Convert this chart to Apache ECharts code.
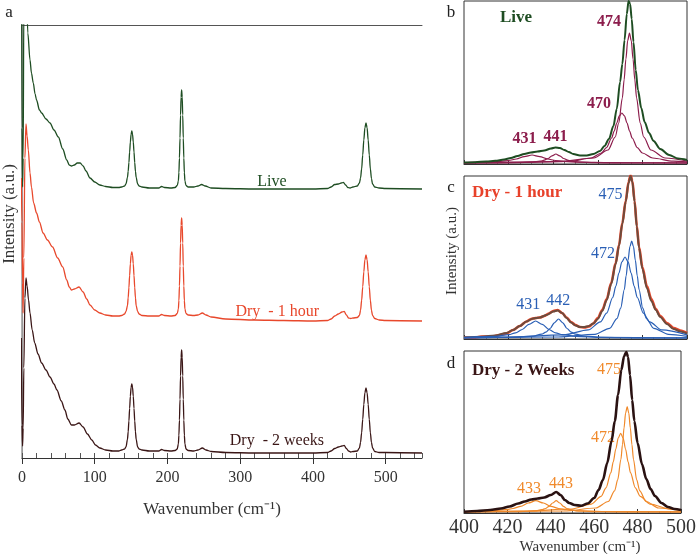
<!DOCTYPE html>
<html><head><meta charset="utf-8">
<script src="https://cdn.jsdelivr.net/npm/echarts@6/dist/echarts.min.js"></script>
<style>html,body{margin:0;padding:0;background:#fff}#c{width:699px;height:554px}</style>
</head><body><div id="c"></div>
<script>
// ---------- Panel a : full spectra (offset stack, arbitrary units) ----------
const liveA = [[-1,600],[0,330],[0.8,271],[1.6,300],[2.5,450],[4,620],[6,470],[8,425],[11,398],[13,385],[15.5,375],[18,364],[20,358],[24,348],[27,345],[33,339],[38.5,335],[44,328],[50,321],[56,309],[61.5,298],[65,293],[68,292],[72,293],[76,295],[80,295],[84,292],[88,287],[93.5,280],[100,276],[107,273],[115,271.5],[125,270.5],[133,270.5],[137,271],[141,272],[143,274],[145,280.5],[146,286.5],[147,295.4],[148,306],[149,316],[150,323.7],[151,327],[152,323.7],[153,316],[154,306],[155,295.4],[156,286.5],[157,280.5],[159,274],[161,272],[165,271],[175,270],[188,270],[192,271.5],[196,270.5],[205,270],[210.5,270.5],[213.5,272.5],[215,277],[215.75,285.4],[216.5,300],[217.25,320],[218,343],[218.75,361],[219.5,368],[220.25,361],[221,343],[221.75,320],[222.5,300],[223.25,285.4],[224,277],[225.5,272.5],[228.5,271],[236,271],[242,272],[247,273.5],[252,272],[260,270],[280,269.5],[320,269],[360,269],[400,269],[420,269.5],[425,271],[430,273.5],[435,274],[439,275],[442,275.5],[445,273],[448,270.5],[451,270],[455,271],[461,272],[464,275],[465.5,280],[467,289],[468.5,303],[470,318],[471.5,330.3],[473,335],[474.5,330.3],[476,318],[477.5,303],[479,289],[480.5,279.4],[482,274],[485,271],[491,270],[500,269.5],[550,269]];
const dry1hA = [[-1,280],[0,236],[0.8,175],[1.5,145],[2.5,200],[4,300],[5.5,334],[7,322],[8.7,308],[11,285],[13,271],[16,255],[20,245],[24,236],[29,225],[35,218],[42,211],[49,200],[56,191],[61.5,178],[65,171],[68,168],[72,169],[78.5,171],[84,166],[89,159],[93.5,153],[100,148],[107,145],[115,143],[125,142],[133,142],[137,142.5],[141,144],[143,146.5],[145,152.3],[146,160],[147,170.4],[148,182.6],[149,194.2],[150,202.8],[151,206],[152,202.8],[153,194.2],[154,182.6],[155,170.4],[156,160],[157,152.3],[159,146.5],[161,144],[165,142.5],[175,142],[188,142],[192,143.5],[196,142.5],[205,142],[210.5,142.5],[213.5,144.5],[215,149],[215.75,157.4],[216.5,172],[217.25,192],[218,215],[218.75,233],[219.5,240],[220.25,233],[221,215],[221.75,192],[222.5,172],[223.25,157.4],[224,149],[225.5,144.5],[228.5,143],[236,142.5],[242,143],[248,145],[253,143],[260,141],[280,139],[320,138],[360,137.5],[400,137],[420,137.5],[425,139],[430,142],[435,144],[440,146],[443,146.5],[446,143],[449,140],[452,139.5],[455,140],[461,140.5],[464,142.5],[465.5,147.8],[467,157.5],[468.5,171.2],[470,186.2],[471.5,198.3],[473,203],[474.5,198.3],[476,186.2],[477.5,171.2],[479,157.5],[480.5,147.8],[482,142.5],[485,139.5],[491,138],[500,137.5],[550,137]];
const dry2wA = [[-1,120],[0,33],[0.8,12],[1.6,30],[2.5,90],[4,160],[5.5,180],[7,172],[9,158],[11,145],[14,128],[17.5,115],[22,104],[27,95],[33,88],[38.5,81],[44,74],[48,68],[54,57],[59,48],[63,39],[68,33],[72,33],[78.5,35],[84,31],[90,24],[96,18],[101,13],[107,10],[115,8],[125,7],[133,7],[137,8],[141,9],[143,11],[145,18.5],[146,26.2],[147,37],[148,49.7],[149,61.8],[150,70.7],[151,74],[152,70.7],[153,61.8],[154,49.7],[155,37],[156,26.2],[157,18.5],[159,11],[161,9],[165,8],[175,7],[188,7],[192,8.5],[196,7.5],[205,7],[210.5,7.5],[213.5,9],[215,14.1],[215.75,22.9],[216.5,37.9],[217.25,58.9],[218,82.1],[218.75,100.8],[219.5,108],[220.25,100.8],[221,82.1],[221.75,58.9],[222.5,37.9],[223.25,22.9],[224,14.1],[225.5,9],[228.5,7.5],[236,7],[242,8],[248,10],[253,8],[260,6.5],[280,5.5],[320,5],[360,5],[400,5],[420,5.5],[425,7],[430,9.5],[435,11],[440,12],[443,12.5],[446,9.5],[449,7],[452,6],[455,6.5],[461,7],[464,10],[465.5,15.6],[467,25.2],[468.5,38.7],[470,53.5],[471.5,65.4],[473,70],[474.5,65.4],[476,53.5],[477.5,38.7],[479,25.2],[480.5,15.6],[482,10],[485,6.5],[491,5.5],[500,5.5],[550,5]];
const labelsA = ['Live', 'Dry  - 1 hour', 'Dry  - 2 weeks'];

// ---------- Panel b : Live, 400-500 cm-1 ----------
const liveB = [[400,1.5],[405,1.8],[410,2.5],[414,3.2],[418,4.5],[421,6],[424,8],[427,10],[430,11.5],[433,12.5],[436,13.5],[439,15.5],[441,16.5],[443,16],[445,14],[447,12],[449,10],[452,8.5],[455,8.5],[458,10],[461,13],[463,18],[465,25],[467,38],[468.5,55],[470,82],[471,100],[472,124],[473,150],[473.8,163],[474.5,160],[475.2,145],[476,122],[477,94],[478,74],[479.5,56],[481,42],[483,31],[485,23],[488,15],[492,9],[496,5.5],[500,4]];
const liveB431 = [[400,1.4],[409.5,1.8],[416.5,2.6],[420,3.5],[423.5,5],[427,7.4],[430.5,9],[434,7.4],[437.5,5],[441,3.5],[444.5,2.6],[451.5,1.8],[465.5,1.3],[500,1.1]];
const liveB441 = [[400,1.1],[406.2,1.1],[423.7,1.3],[430.7,1.9],[434.2,2.8],[436,3.8],[437.7,5.5],[439.45,8.2],[441.2,10],[442.95,8.2],[444.7,5.5],[446.45,3.8],[448.2,2.8],[451.7,1.9],[458.7,1.3],[476.2,1.1],[500,1.0]];
const liveB470 = [[400,1.2],[424.8,1.5],[447.8,2.9],[457,6],[461.6,11],[463.9,16.4],[466.2,26],[467.35,33],[468.5,41],[469.65,48.1],[470.8,51],[471.95,48.1],[473.1,41],[474.25,33],[475.4,26],[477.7,16.4],[480,11],[484.6,6],[493.8,2.9],[500,2.2]];
const liveB474 = [[400,1.2],[442.2,2.3],[458.2,6],[464.6,14],[467.8,27],[469.4,41],[471,66],[471.8,84.2],[472.6,105],[473.4,123.3],[474.2,131],[475,123.3],[475.8,105],[476.6,84.2],[477.4,66],[479,41],[480.6,27],[483.8,14],[490.2,6],[500,3]];
const peaksB = ['431', '441', '470', '474'];

// ---------- Panel c : Dry - 1 hour ----------
const dry1hC = [[400,1.5],[404,1.2],[408,2.5],[412,2.2],[416,4],[419,5.5],[422,9],[425,13],[428,17.5],[430,20],[432,21],[434,21.5],[436,23],[438,25.5],[440,28],[442,29],[444,26],[446,21.5],[448,17],[450,14],[452,12],[454,11.5],[456,12.5],[458,15.5],[460,21],[462,29],[464,40],[466,56],[468,76],[469.5,94],[471,116],[472.5,138],[473.8,157],[474.7,164],[475.5,158],[476.5,138],[477.5,113],[478.5,92],[480,72],[482,53],[484,40],[486,30],[488,23],[491,16],[494,11],[497,8.5],[500,6]];
const dry1hCFit = [[400,1.5],[408,2.3],[414,3.5],[419,6],[422,9],[425,13],[428,17.5],[431,20.5],[434,21.5],[437,24],[440,27.5],[442,28.5],[444,26],[446,21],[448,16.5],[450,13.5],[452,12],[454,12],[456,13],[458,15.5],[460,20],[462,28],[464,39],[466,55],[468,75],[469.5,93],[471,115],[472.5,137],[473.8,156],[474.7,163],[475.5,157],[476.5,137],[477.5,112],[478.5,91],[480,70],[482,51],[484,38],[486,29],[488,22],[491,15],[494,10],[497,7.5],[500,5.5]];
const dry1hC431 = [[400,1.6],[414.1,2.7],[420.1,4.4],[423.1,6.2],[426.1,9.5],[429.1,14.6],[432.1,18],[435.1,14.6],[438.1,9.5],[441.1,6.2],[444.1,4.4],[450.1,2.7],[462.1,1.7],[492.1,1.2],[500,1.1]];
const dry1hC442 = [[400,1.15],[423.4,1.7],[431,2.9],[434.8,4.8],[436.7,6.85],[438.6,10.5],[440.5,16.2],[442.4,20],[444.3,16.2],[446.2,10.5],[448.1,6.85],[450,4.8],[453.8,2.9],[461.4,1.7],[480.4,1.2],[500,1.1]];
const dry1hC472 = [[400,1.5],[417.2,1.8],[444.7,4.1],[455.7,9.1],[461.2,17.2],[463.95,25.9],[466.7,41.5],[468.1,52.8],[469.45,65.8],[470.8,77.2],[472.2,82],[473.6,77.2],[474.95,65.8],[476.3,52.8],[477.7,41.5],[480.45,25.9],[483.2,17.2],[488.7,9.1],[500,4.1]];
const dry1hC475 = [[400,1.2],[442.2,2],[458.7,4.7],[465.3,10.7],[468.6,20.4],[470.25,30.8],[471.9,49.5],[472.7,63.1],[473.55,78.6],[474.4,92.3],[475.2,98],[476,92.3],[476.85,78.6],[477.7,63.1],[478.5,49.5],[480.15,30.8],[481.8,20.4],[485.1,10.7],[491.7,4.7],[500,2.7]];
const peaksC = ['431', '442', '472', '475'];

// ---------- Panel d : Dry - 2 weeks ----------
const dry2wD = [[400,1.3],[406,2],[412,3],[417,4.5],[421,6.5],[425,9.5],[428,11.5],[431,13.5],[434,14.5],[437,15.5],[440,18],[442.5,21],[444.5,18],[446.5,13],[448.5,10],[451,8],[454,7.3],[457,9.5],[460,15],[462,23],[464,33],[466,50],[468,72],[469.5,92],[471,118],[472.5,143],[473.8,157],[474.8,161],[475.6,156],[476.5,138],[477.5,113],[478.5,92],[480,70],[482,49],[484,34],[486,24],[488,17],[491,10],[494,6],[497,4],[500,3]];
const dry2wD433 = [[400,1.5],[412.1,2.1],[419.1,3.3],[422.6,4.5],[426.1,6.7],[429.6,10],[433.1,12.3],[436.6,10],[440.1,6.7],[443.6,4.5],[447.1,3.3],[454.1,2.1],[468.1,1.4],[500,1.1]];
const dry2wD443 = [[400,1.1],[426,1.4],[432.6,2.1],[435.9,3.3],[437.55,4.5],[439.2,6.7],[440.85,10],[442.5,12.3],[444.15,10],[445.8,6.7],[447.45,4.5],[449.1,3.3],[452.4,2.1],[459,1.4],[475.5,1.1],[500,1.1]];
const dry2wD472 = [[400,1.3],[427.2,1.8],[449.7,4],[458.7,8.9],[463.2,16.7],[465.45,25.2],[467.7,40.4],[468.8,51.4],[469.95,64],[471.1,75.1],[472.2,79.7],[473.3,75.1],[474.45,64],[475.6,51.4],[476.7,40.4],[478.95,25.2],[481.2,16.7],[485.7,8.9],[494.7,4],[500,3]];
const dry2wD475 = [[400,1.2],[446.2,2],[460.7,5],[466.5,11.5],[469.4,22.1],[470.85,33.4],[472.3,53.7],[473.03,68.4],[473.75,85.2],[474.48,100.1],[475.2,106.3],[475.93,100.1],[476.65,85.2],[477.38,68.4],[478.1,53.7],[479.55,33.4],[481,22.1],[483.9,11.5],[489.7,5],[500,2.4]];
const peaksD = ['433', '443', '472', '475'];

// ---------- styling ----------
const SERIF = 'Liberation Serif';
const C = {
  green: '#1e4d22', red: '#e8482c', brown: '#3a1616', maroon: '#8c1d4c',
  blue: '#2a5fb5', orange: '#f0892a', fit: '#6e4b3c', black: '#2a1212', axis: '#333'
};

function line(data, xi, yi, color, width, z) {
  return { type: 'line', xAxisIndex: xi, yAxisIndex: yi, data: data, symbol: 'none', showSymbol: false,
    smooth: 0.3, smoothMonotone: 'x', lineStyle: { color: color, width: width }, z: z || 2,
    animation: false, silent: true, clip: true };
}
function txt(text, x, y, font, color, align, rot) {
  return { type: 'text', x: x, y: y, rotation: rot || 0, silent: true,
    style: { text: text, font: font, fill: color, align: align || 'center', verticalAlign: 'middle',
      textAlign: align || 'center', textVerticalAlign: 'middle' } };
}
function panelX(gi, showLabels) {
  return { gridIndex: gi, type: 'value', min: 400, max: 500, interval: 20, position: 'bottom',
    axisLine: { show: true, lineStyle: { color: C.axis, width: 1 } },
    axisTick: { show: true, inside: true, length: 4, lineStyle: { color: C.axis } },
    minorTick: { show: true, splitNumber: 4, length: 2, lineStyle: { color: '#666' } },
    axisLabel: { show: showLabels, margin: 5, fontFamily: SERIF, fontSize: 20, color: '#333' },
    splitLine: { show: false } };
}
function panelY(gi, max) {
  return { gridIndex: gi, type: 'value', min: 0, max: max, show: false, splitLine: { show: false } };
}

const chart = echarts.init(document.getElementById('c'), null, { renderer: 'canvas' });
chart.setOption({
  backgroundColor: '#fff',
  animation: false,
  grid: [
    { left: 22, top: 25, width: 400, height: 433, show: false },
    { left: 464, top: 1, width: 223, height: 163, show: true, borderColor: '#333', borderWidth: 1 },
    { left: 464, top: 176, width: 223, height: 163, show: true, borderColor: '#333', borderWidth: 1 },
    { left: 464, top: 351, width: 223, height: 162, show: true, borderColor: '#333', borderWidth: 1 }
  ],
  xAxis: [
    { gridIndex: 0, type: 'value', min: 0, max: 550, interval: 100, position: 'bottom',
      axisLine: { lineStyle: { color: C.axis, width: 1 } },
      axisTick: { inside: false, length: 6, lineStyle: { color: C.axis } },
      axisLabel: { margin: 12, fontFamily: SERIF, fontSize: 16, color: '#333', showMaxLabel: false },
      splitLine: { show: false } },
    { gridIndex: 0, type: 'value', min: 0, max: 550, interval: 20, position: 'bottom',
      axisLine: { show: false }, axisTick: { inside: true, length: 5, lineStyle: { color: '#555' } },
      axisLabel: { show: false }, splitLine: { show: false } },
    { gridIndex: 0, type: 'value', min: 0, max: 550, position: 'top',
      axisLine: { show: true, lineStyle: { color: '#555', width: 1 } }, axisTick: { show: false },
      axisLabel: { show: false }, splitLine: { show: false } },
    panelX(1, false), panelX(2, false), panelX(3, true)
  ],
  yAxis: [
    { gridIndex: 0, type: 'value', min: 0, max: 433, position: 'left',
      axisLine: { show: true, lineStyle: { color: '#999', width: 1.5 } }, axisTick: { show: false },
      axisLabel: { show: false }, splitLine: { show: false } },
    { gridIndex: 0, type: 'value', min: 0, max: 433, position: 'right',
      axisLine: { show: true, lineStyle: { color: '#999', width: 1 } }, axisTick: { show: false },
      axisLabel: { show: false }, splitLine: { show: false } },
    panelY(1, 163), panelY(2, 163), panelY(3, 162)
  ],
  series: [
    line(liveA, 0, 0, C.green, 1.3),
    line(dry1hA, 0, 0, C.red, 1.3),
    line(dry2wA, 0, 0, C.brown, 1.3),

    line(liveB431, 3, 2, C.maroon, 1.2),
    line(liveB441, 3, 2, C.maroon, 1.2),
    line(liveB470, 3, 2, C.maroon, 1.2),
    line(liveB474, 3, 2, C.maroon, 1.2),
    line(liveB, 3, 2, C.green, 2, 3),

    line(dry1hC, 4, 3, C.red, 2.6),
    line(dry1hCFit, 4, 3, C.fit, 2, 3),
    line(dry1hC431, 4, 3, C.blue, 1.2, 4),
    line(dry1hC442, 4, 3, C.blue, 1.2, 4),
    line(dry1hC472, 4, 3, C.blue, 1.2, 4),
    line(dry1hC475, 4, 3, C.blue, 1.2, 4),

    line(dry2wD433, 5, 4, C.orange, 1.2),
    line(dry2wD443, 5, 4, C.orange, 1.2),
    line(dry2wD472, 5, 4, C.orange, 1.2),
    line(dry2wD475, 5, 4, C.orange, 1.2),
    line(dry2wD, 5, 4, C.black, 2.6, 3)
  ],
  graphic: [
    txt('a', 9, 13, '17px ' + SERIF, '#222'),
    txt('b', 451, 13, '17px ' + SERIF, '#222'),
    txt('c', 451, 188, '17px ' + SERIF, '#222'),
    txt('d', 451, 364, '17px ' + SERIF, '#222'),
    txt('Intensity (a.u.)', 10, 214, '17px ' + SERIF, '#333', 'center', Math.PI / 2),
    txt('Intensity (a.u.)', 452, 251, '15px ' + SERIF, '#333', 'center', Math.PI / 2),
    txt('Wavenumber (cm\u207B\u00B9)', 212, 510, '17px ' + SERIF, '#333'),
    txt('Wavenumber (cm\u207B\u00B9)', 580, 547, '15px ' + SERIF, '#333'),

    txt(labelsA[0], 272, 182, '16px ' + SERIF, C.green),
    txt(labelsA[1], 319, 312, '16px ' + SERIF, C.red, 'right'),
    txt(labelsA[2], 324, 441, '16px ' + SERIF, C.brown, 'right'),

    txt('Live', 500, 18, 'bold 17px ' + SERIF, C.green, 'left'),
    txt(peaksB[3], 609, 22, 'bold 16px ' + SERIF, C.maroon),
    txt(peaksB[2], 599, 104, 'bold 16px ' + SERIF, C.maroon),
    txt(peaksB[0], 524.5, 139, 'bold 16px ' + SERIF, C.maroon),
    txt(peaksB[1], 555.5, 137, 'bold 16px ' + SERIF, C.maroon),

    txt('Dry - 1 hour', 472, 193, 'bold 17px ' + SERIF, '#e8412a', 'left'),
    txt(peaksC[3], 610.5, 195, '16px ' + SERIF, C.blue),
    txt(peaksC[2], 603, 254, '16px ' + SERIF, C.blue),
    txt(peaksC[0], 528.3, 305, '16px ' + SERIF, C.blue),
    txt(peaksC[1], 558.3, 301, '16px ' + SERIF, C.blue),

    txt('Dry - 2 Weeks', 472, 371, 'bold 17px ' + SERIF, C.brown, 'left'),
    txt(peaksD[3], 609, 370, '16px ' + SERIF, C.orange),
    txt(peaksD[2], 603, 438, '16px ' + SERIF, C.orange),
    txt(peaksD[0], 529, 489, '16px ' + SERIF, C.orange),
    txt(peaksD[1], 561, 484, '16px ' + SERIF, C.orange)
  ]
});
</script></body></html>
